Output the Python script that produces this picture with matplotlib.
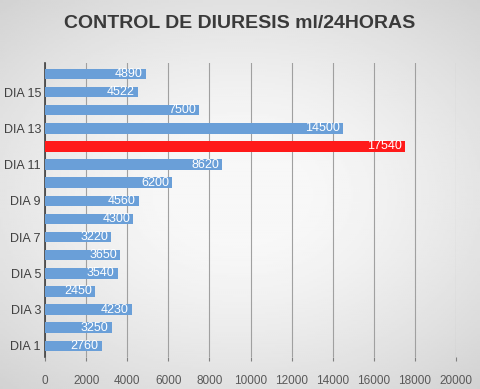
import matplotlib.pyplot as plt
import numpy as np

dias = ["DIA %d" % i for i in range(1, 17)]
valores = [2760, 3250, 4230, 2450, 3540, 3650, 3220, 4300,
           4560, 6200, 8620, 17540, 14500, 7500, 4522, 4890]
destacado = "DIA 12"
xticks = list(range(0, 20001, 2000))

azul = "#6a9fd8"
rojo = "#ff1a1a"
fuente = ["Liberation Sans", "DejaVu Sans"]

fig = plt.figure(figsize=(4.8, 3.89), dpi=100)

# fondo degradado gris
bg = fig.add_axes([0, 0, 1, 1], zorder=-10)
yy, xx = np.mgrid[-1:1:200j, -1:1:240j]
r = np.sqrt((xx * 0.9) ** 2 + (yy * 1.0) ** 2)
bg.imshow(0.97 - 0.13 * np.clip(r - 0.25, 0, None) ** 1.3, cmap="gray",
          vmin=0, vmax=1, aspect="auto", extent=[0, 1, 0, 1])
bg.axis("off")

ax = fig.add_axes([0.094, 0.083, 0.856, 0.755])
ax.patch.set_alpha(0)

ypos = np.arange(len(dias))
colores = [rojo if d == destacado else azul for d in dias]
bars = ax.barh(ypos, valores, height=0.58, color=colores, zorder=3)
for b, v in zip(bars, valores):
    ax.text(v - 150, b.get_y() + b.get_height() / 2, str(v), color="white",
            ha="right", va="center", fontsize=9, family=fuente, zorder=4)

ax.set_xlim(0, 20000)
ax.set_ylim(-0.6, len(dias) - 0.4)
ax.set_xticks(xticks)
ax.set_xticklabels([str(t) for t in xticks], fontsize=8.5, family=fuente, color="#595959")
ax.set_yticks(ypos[::2])
ax.set_yticklabels(dias[::2], fontsize=9, family=fuente, color="#404040")
ax.tick_params(axis="y", length=0, pad=3)
ax.tick_params(axis="x", length=3, color="#808080", pad=10)
ax.grid(axis="x", color="#a0a0a0", linewidth=0.8, zorder=0)
for s in ["top", "right", "bottom"]:
    ax.spines[s].set_visible(False)
ax.spines["left"].set_color("#404040")
ax.spines["left"].set_linewidth(1.2)

fig.text(0.5, 0.94, "CONTROL DE DIURESIS ml/24HORAS", ha="center", va="center",
         fontsize=14, fontweight="bold", family=fuente, color="#3a3a3a")

fig.savefig("out.png", dpi=100)
